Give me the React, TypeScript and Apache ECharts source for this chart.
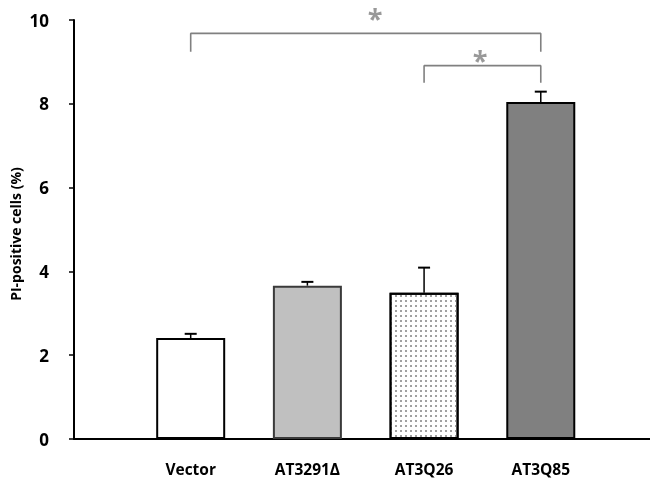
import React, { useEffect, useRef } from "react";
import * as echarts from "echarts";

// Groups and their measured values (mean, upper error)
const categories = ["Vector", "AT3291Δ", "AT3Q26", "AT3Q85"];
const means = [2.41, 3.66, 3.49, 8.04];
const errors = [0.1, 0.09, 0.6, 0.25];
const yTicks = [0, 2, 4, 6, 8, 10];
const yTitle = "PI-positive cells (%)";

// Significance brackets: [from group, to group, bracket top, leg bottom]
const brackets = [
  [1, 4, 9.68, 9.24],
  [3, 4, 8.91, 8.5],
];
// Asterisk positions [x, y]
const stars = [
  [2.58, 10.14],
  [3.48, 9.14],
];

const fills = ["#ffffff", "#c0c0c0", "#ffffff", "#808080"];
const borders = ["#000000", "#3a3a3a", "#000000", "#000000"];

export default function App() {
  const ref = useRef<HTMLDivElement>(null);

  useEffect(() => {
    if (!ref.current) return;
    const chart = echarts.init(ref.current, undefined, { renderer: "svg" });
    const font = "'Open Sans', 'Noto Sans', sans-serif";

    const barData = means.map((v, i) => ({
      value: [i + 1, v],
      itemStyle: {
        color: fills[i],
        borderColor: borders[i],
        borderWidth: 2,
        ...(i === 2
          ? {
              decal: {
                symbol: "rect",
                symbolSize: 1,
                color: "#a0a0a0",
                backgroundColor: "#ffffff",
                dashArrayX: [1.3, 3],
                dashArrayY: [1.3, 2.4],
                rotation: 0,
              },
            }
          : {}),
      },
    }));

    const bracketSeries = brackets.map((b) => ({
      type: "line" as const,
      data: [
        [b[0], b[3]],
        [b[0], b[2]],
        [b[1], b[2]],
        [b[1], b[3]],
      ],
      symbol: "none",
      clip: false,
      lineStyle: { color: "#808080", width: 1.6 },
      z: 5,
      silent: true,
    }));

    chart.setOption({
      animation: false,
      grid: { left: 74, right: 0, top: 20, bottom: 42, containLabel: false },
      graphic: [
        {
          type: "text",
          x: 15,
          y: 234,
          rotation: Math.PI / 2,
          style: {
            text: yTitle,
            fill: "#000",
            font: `bold 14px ${font}`,
            align: "center",
            verticalAlign: "middle",
          },
        },
      ],
      xAxis: {
        type: "value",
        min: 0,
        max: 4.936,
        interval: 1,
        splitLine: { show: false },
        axisTick: { show: false },
        axisLine: { show: true, onZero: false, lineStyle: { color: "#000", width: 2 } },
        axisLabel: {
          margin: 22,
          showMaxLabel: false,
          color: "#000",
          fontWeight: "bold",
          fontSize: 15.5,
          fontFamily: font,
          formatter: (v: number) => {
            const idx = Math.round(v) - 1;
            return Math.abs(v - Math.round(v)) < 1e-6 && idx >= 0 && idx < categories.length
              ? categories[idx]
              : "";
          },
        },
      },
      yAxis: {
        type: "value",
        min: yTicks[0],
        max: yTicks[yTicks.length - 1],
        interval: 2,
        splitLine: { show: false },
        axisLine: { show: true, lineStyle: { color: "#000", width: 2 } },
        axisTick: { show: true, length: 5, lineStyle: { color: "#000", width: 1.5 } },
        axisLabel: {
          margin: 25,
          color: "#000",
          fontWeight: "bold",
          fontSize: 17,
          fontFamily: font,
        },
      },
      series: [
        {
          type: "bar",
          data: barData,
          barWidth: 69,
          z: 2,
        },
        {
          type: "custom",
          z: 3,
          data: means.map((m, i) => [i + 1, m, m + errors[i]]),
          renderItem: (_params: any, api: any) => {
            const x = api.value(0);
            const base = api.coord([x, api.value(1)]);
            const top = api.coord([x, api.value(2)]);
            return {
              type: "group",
              children: [
                {
                  type: "line",
                  shape: { x1: base[0], y1: base[1], x2: top[0], y2: top[1] },
                  style: { stroke: "#000", lineWidth: 1.5 },
                },
                {
                  type: "line",
                  shape: { x1: top[0] - 6, y1: top[1], x2: top[0] + 6, y2: top[1] },
                  style: { stroke: "#000", lineWidth: 2 },
                },
              ],
            };
          },
        },
        ...bracketSeries,
        {
          type: "scatter",
          data: stars,
          symbolSize: 0,
          clip: false,
          silent: true,
          z: 6,
          label: {
            show: true,
            position: "inside",
            formatter: "*",
            color: "#808080",
            fontSize: 27,
            fontWeight: "bold",
            fontFamily: font,
            offset: [0, 3],
          },
        },
      ],
    });

    return () => chart.dispose();
  }, []);

  return (
    <div
      ref={ref}
      style={{ position: "fixed", left: 0, top: 0, width: 650, height: 481 }}
    />
  );
}
